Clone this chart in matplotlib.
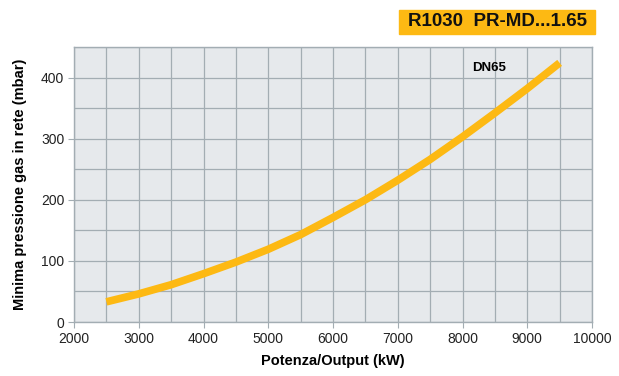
import numpy as np
import matplotlib.pyplot as plt
from matplotlib.patches import Rectangle

plt.rcParams['font.family'] = ['Liberation Sans', 'DejaVu Sans']

# Curve DN65
power_kw = [2500, 3000, 3500, 4000, 4500, 5000, 5500, 6000, 6500, 7000, 7500, 8000, 8500, 9000, 9500]
pressure_mbar = [33, 46, 61, 79, 98, 119, 143, 171, 200, 232, 266, 303, 342, 382, 424]

title_text = "R1030  PR-MD...1.65"
curve_label = "DN65"

orange = "#FDB913"
grid_col = "#A3ADB3"

fig = plt.figure(figsize=(6.19, 3.76), dpi=100)
ax = fig.add_axes([74 / 619, 54 / 376, 518 / 619, 275 / 376])
ax.set_facecolor("#E6E9EC")

ax.plot(power_kw, pressure_mbar, color=orange, lw=5.5, solid_capstyle="butt", zorder=3)

ax.set_xlim(2000, 10000)
ax.set_ylim(0, 450)
ax.set_xticks(np.arange(2000, 10001, 1000))
ax.set_yticks(np.arange(0, 401, 100))
ax.set_xticks(np.arange(2000, 10001, 500), minor=True)
ax.set_yticks(np.arange(0, 451, 50), minor=True)
ax.grid(True, which="both", color=grid_col, lw=0.9, zorder=1)
ax.set_axisbelow(True)
ax.tick_params(which="major", length=4, color=grid_col, labelsize=10, pad=3, labelcolor="#222222")
ax.tick_params(which="minor", length=0)
for s in ax.spines.values():
    s.set_color(grid_col)
    s.set_linewidth(1.0)

ax.set_xlabel("Potenza/Output (kW)", fontweight="bold", fontsize=10.5, labelpad=6)
ax.set_ylabel("Minima pressione gas in rete (mbar)", fontweight="bold", fontsize=10.5, labelpad=10)

ax.text(8150, 416, curve_label, fontweight="bold", fontsize=9.5, va="center", ha="left")

# orange title box
fig.patches.append(Rectangle((399 / 619, 1 - 34 / 376), 196 / 619, 24 / 376,
                             transform=fig.transFigure, color=orange, zorder=0))
fig.text(498 / 619, 1 - 22 / 376, title_text, fontweight="bold", fontsize=13.5,
         ha="center", va="center", color="#111111")

fig.savefig("out.png", dpi=100)
